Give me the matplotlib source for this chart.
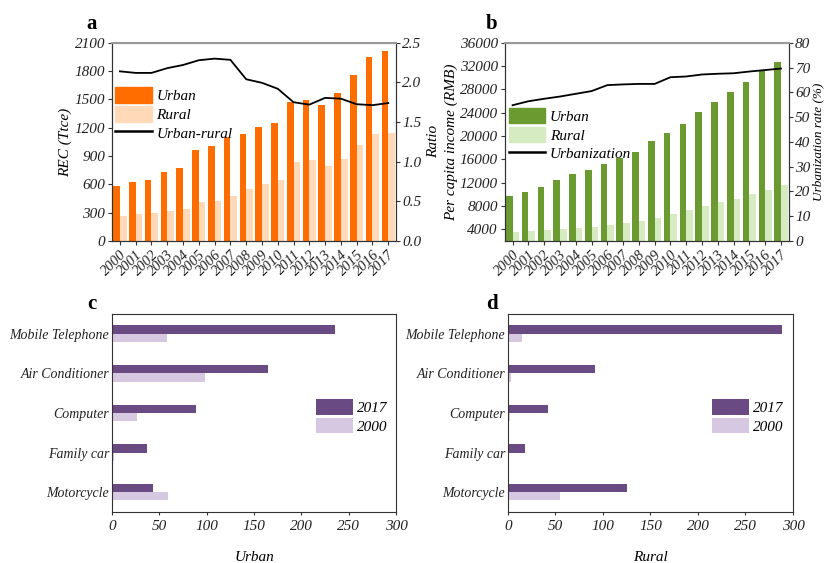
import numpy as np
import matplotlib
matplotlib.use('Agg')
import matplotlib.pyplot as plt
from matplotlib.lines import Line2D

# -----------------------------
# DATI
# -----------------------------
years = [str(y) for y in range(2000, 2018)]

rec_urban = [580, 629, 643, 728, 778, 969, 1011, 1100, 1131, 1206, 1248, 1471,
             1495, 1446, 1566, 1757, 1952, 2012]
rec_rural = [269, 286, 297, 322, 339, 414, 428, 474, 552, 605, 643, 834,
             859, 799, 866, 1015, 1131, 1142]
rec_ratio = [2.14, 2.12, 2.12, 2.18, 2.22, 2.28, 2.30, 2.285, 2.04, 1.995, 1.92, 1.75,
             1.72, 1.805, 1.795, 1.725, 1.713, 1.74]

inc_urban = [9650, 10350, 11210, 12410, 13450, 14250, 15220, 16250, 17220, 19110,
             20600, 22030, 24090, 25870, 27530, 29300, 31080, 32740]
inc_rural = [3540, 3710, 3940, 4060, 4230, 4400, 4690, 5030, 5430, 5950,
             6630, 7260, 7950, 8640, 9270, 10010, 10700, 11550]
urbanization = [54.8, 56.4, 57.4, 58.3, 59.4, 60.5, 62.9, 63.2, 63.4, 63.4,
                66.1, 66.4, 67.2, 67.5, 67.7, 68.4, 69.0, 69.6]

goods = ['Mobile Telephone', 'Air Conditioner', 'Computer', 'Family car', 'Motorcycle']
urban_2017 = [235, 165, 89, 37, 43]
urban_2000 = [58, 98, 26, 2, 59]
rural_2017 = [288, 92, 42, 18, 125]
rural_2000 = [15, 3.5, 2.5, 1, 55]

# -----------------------------
# STILE
# -----------------------------
plt.rcParams['font.family'] = ['Liberation Serif', 'DejaVu Serif']
plt.rcParams['font.style'] = 'italic'
plt.rcParams['font.size'] = 11
plt.rcParams['axes.edgecolor'] = '#333333'
plt.rcParams['xtick.color'] = '#333333'
plt.rcParams['ytick.color'] = '#333333'
plt.rcParams['xtick.labelcolor'] = '#222222'
plt.rcParams['ytick.labelcolor'] = '#222222'

ORANGE = '#FF6D00'
PEACH = '#FFD9B8'
GREEN = '#6A9A30'
LGREEN = '#D6EBC1'
PURPLE = '#6A4A82'
LPURPLE = '#D7C8E2'

fig = plt.figure(figsize=(8.26, 5.63), dpi=100)
W = 0.344
H = 0.352
ax_a = fig.add_axes([0.1356, 0.572, W, H])
ax_b = fig.add_axes([0.611, 0.572, W, H])
ax_c = fig.add_axes([0.1356, 0.0906, W, H])
ax_d = fig.add_axes([0.615, 0.0906, W + 0.001, H])

x = np.arange(len(years))
bw = 0.42

leg_kw = dict(frameon=False, fontsize=11, handlelength=2.4, handleheight=1.2,
              labelspacing=0.18, handletextpad=0.3, borderpad=0, borderaxespad=0,
              loc='upper left')


def style_top(ax, ax2):
    ax.spines['top'].set_color('#999999')
    ax2.spines['top'].set_color('#999999')
    ax2.spines['top'].set_linewidth(1.5)
    ax.set_xlim(-0.5, len(years) - 0.5)
    ax.set_xticks(x)
    ax.set_xticklabels(years, rotation=45, ha='right', rotation_mode='anchor', fontsize=10.5)
    ax.tick_params(axis='x', length=3, pad=2)
    ax.tick_params(axis='y', length=3, labelsize=11, pad=2)
    ax2.tick_params(axis='y', length=3, labelsize=11, pad=1.5)


# -----------------------------
# PANNELLO A
# -----------------------------
ax_a.bar(x - bw / 2, rec_urban, bw, color=ORANGE)
ax_a.bar(x + bw / 2, rec_rural, bw, color=PEACH)
ax_a.set_ylim(0, 2100)
ax_a.set_yticks(range(0, 2101, 300))
ax_a.set_ylabel('REC (Ttce)', fontsize=11, labelpad=2)
ax_a2 = ax_a.twinx()
ax_a2.plot(x, rec_ratio, color='black', lw=1.3)
ax_a2.set_ylim(0, 2.5)
ax_a2.set_yticks(np.arange(0, 2.51, 0.5))
ax_a2.set_yticklabels(['%.1f' % v for v in np.arange(0, 2.51, 0.5)])
ax_a2.set_ylabel('Ratio', fontsize=11, labelpad=4)
style_top(ax_a, ax_a2)
handles = [plt.Rectangle((0, 0), 1, 1, color=ORANGE), plt.Rectangle((0, 0), 1, 1, color=PEACH),
           Line2D([], [], color='black', lw=1.8)]
ax_a2.legend(handles, ['Urban', 'Rural', 'Urban-rural'], bbox_to_anchor=(0.01, 0.775), **leg_kw)

# -----------------------------
# PANNELLO B
# -----------------------------
ax_b.bar(x - bw / 2, inc_urban, bw, color=GREEN)
ax_b.bar(x + bw / 2, inc_rural, bw, color=LGREEN)
ax_b.set_ylim(2000, 36000)
ax_b.set_yticks(range(4000, 36001, 4000))
ax_b.set_ylabel('Per capita income (RMB)', fontsize=11, labelpad=1)
ax_b2 = ax_b.twinx()
ax_b2.plot(x, urbanization, color='black', lw=1.3)
ax_b2.set_ylim(0, 80)
ax_b2.set_yticks(range(0, 81, 10))
ax_b2.set_ylabel('Urbanization rate (%)', fontsize=9.5)
ax_b2.yaxis.set_label_coords(1.083, 0.5)
style_top(ax_b, ax_b2)
handles = [plt.Rectangle((0, 0), 1, 1, color=GREEN), plt.Rectangle((0, 0), 1, 1, color=LGREEN),
           Line2D([], [], color='black', lw=1.8)]
ax_b2.legend(handles, ['Urban', 'Rural', 'Urbanization'], bbox_to_anchor=(0.014, 0.672), **leg_kw)

# -----------------------------
# PANNELLI C / D
# -----------------------------
y = np.arange(len(goods))
bh = 0.21
for ax, v17, v00, lab, lx in [(ax_c, urban_2017, urban_2000, 'Urban', 0.718),
                              (ax_d, rural_2017, rural_2000, 'Rural', 0.716)]:
    ax.barh(y - bh / 2, v17, bh, color=PURPLE, label='2017')
    ax.barh(y + bh / 2, v00, bh, color=LPURPLE, label='2000')
    ax.set_ylim(len(goods) - 0.5, -0.5)
    ax.set_yticks(y)
    ax.set_yticklabels(goods, fontsize=10)
    ax.tick_params(axis='y', length=0, pad=2)
    ax.set_xlim(0, 300)
    ax.set_xticks(range(0, 301, 50))
    ax.tick_params(axis='x', length=2, labelsize=11)
    ax.set_xlabel(lab, fontsize=11, labelpad=13)
    ax.legend(bbox_to_anchor=(lx, 0.57), **leg_kw)

# lettere pannelli
for lt, px, py in [('a', 0.111, 0.958), ('b', 0.595, 0.958),
                   ('c', 0.111, 0.46), ('d', 0.595, 0.46)]:
    fig.text(px, py, lt, fontsize=15, fontweight='bold', style='normal',
             ha='center', va='center')

fig.savefig('out.png', dpi=100, facecolor='white')
